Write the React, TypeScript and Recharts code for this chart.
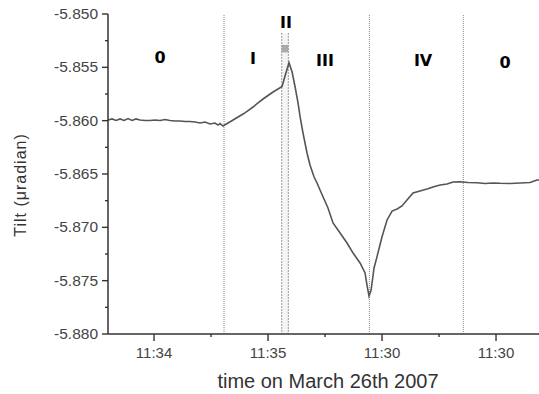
import {
  LineChart,
  Line,
  XAxis,
  YAxis,
  ReferenceLine,
  ReferenceArea,
  ReferenceDot,
} from "recharts";

// time in minutes past 11:00
const times = [
  33.596, 33.632, 33.667, 33.702, 33.737, 33.772, 33.807, 33.842, 33.877, 33.921,
  33.965, 34.009, 34.053, 34.096, 34.14, 34.184, 34.228, 34.272, 34.316, 34.36,
  34.404, 34.447, 34.491, 34.535, 34.561, 34.579, 34.605, 34.649, 34.693, 34.737,
  34.781, 34.825, 34.868, 34.912, 34.956, 35.0, 35.044, 35.088, 35.123, 35.149,
  35.184, 35.211, 35.237, 35.263, 35.281, 35.307, 35.342, 35.368, 35.404, 35.43,
  35.456, 35.482, 35.526, 35.57, 35.632, 35.693, 35.746, 35.807, 35.851, 35.868,
  35.886, 35.904, 35.93, 35.956, 36.0, 36.044, 36.088, 36.132, 36.175, 36.219,
  36.272, 36.333, 36.395, 36.447, 36.509, 36.57, 36.623, 36.684, 36.754, 36.833,
  36.904, 36.974, 37.035, 37.123, 37.211, 37.298, 37.36, 37.377,
];

const tilt = [
  -5.85994, -5.85984, -5.85998, -5.85984, -5.85998, -5.8598, -5.85998, -5.85984, -5.85994, -5.85998,
  -5.85998, -5.85994, -5.85998, -5.85989, -5.85998, -5.86003, -5.86003, -5.86008, -5.86008, -5.86013,
  -5.86022, -5.86013, -5.86031, -5.86022, -5.86041, -5.86027, -5.8605, -5.86022, -5.85994, -5.85966,
  -5.85938, -5.85905, -5.85872, -5.85834, -5.85797, -5.85764, -5.85731, -5.85703, -5.8568, -5.85581,
  -5.85457, -5.85544, -5.85682, -5.85834, -5.85963, -5.86116, -5.86303, -5.86416, -5.86528, -5.86584,
  -5.8665, -5.86713, -5.86819, -5.86959, -5.87053, -5.87147, -5.87241, -5.87334, -5.87428, -5.87541,
  -5.87644, -5.87588, -5.87381, -5.87275, -5.87088, -5.86931, -5.86847, -5.86828, -5.868, -5.86744,
  -5.86678, -5.86659, -5.86641, -5.86622, -5.86603, -5.86594, -5.86575, -5.86572, -5.8658, -5.86582,
  -5.86589, -5.86584, -5.86587, -5.86589, -5.86584, -5.8658, -5.86556, -5.86556,
];

const xTicks = [34, 34.5, 35, 35.5, 36, 36.5, 37];
const xTickLabels = ["11:34", "", "11:35", "", "11:30", "", "11:30"];
const yTicks = [-5.88, -5.8775, -5.875, -5.8725, -5.87, -5.8675, -5.865, -5.8625, -5.86, -5.8575, -5.855, -5.8525, -5.85];
const yTickLabels = ["-5.880", "", "-5.875", "", "-5.870", "", "-5.865", "", "-5.860", "", "-5.855", "", "-5.850"];

// phase boundaries (full height) and the two short phase II markers
const boundaryTimes = [34.614, 35.889, 36.713];
const phaseTwoTimes = [35.12, 35.178];
const phaseTwoTop = -5.85178;

const phaseNames = ["0", "I", "II", "III", "IV", "0"];
const phaseTimes = [34.053, 34.868, 35.158, 35.5, 36.36, 37.079];
const phaseLevels = [-5.85403, -5.85413, -5.85075, -5.85431, -5.85431, -5.8545];

const data = times.map((t, i) => ({ t, tilt: tilt[i] }));

const FONT = "'Liberation Sans', Arial, sans-serif";

function XTick(props: any) {
  const { x, y, index } = props;
  const label = xTickLabels[index];
  const major = label !== "";
  return (
    <g>
      <line x1={x} x2={x} y1={y} y2={y + (major ? 7 : 3)} stroke="#333" strokeWidth={1.4} />
      {major && (
        <text x={x} y={y + 24} textAnchor="middle" fontSize={15} fill="#444" fontFamily={FONT}>
          {label}
        </text>
      )}
    </g>
  );
}

function YTick(props: any) {
  const { x, y, index } = props;
  const label = yTickLabels[index];
  const major = label !== "";
  return (
    <g>
      <line x1={x - (major ? 6 : 3)} x2={x} y1={y} y2={y} stroke="#333" strokeWidth={1.4} />
      {major && (
        <text x={x - 10} y={y + 5} textAnchor="end" fontSize={15.5} fill="#444" fontFamily={FONT}>
          {label}
        </text>
      )}
    </g>
  );
}

export default function App() {
  return (
    <div style={{ position: "absolute", left: 0, top: 0, width: 539, height: 394, background: "#fff" }}>
      <LineChart width={539} height={394} data={data} margin={{ top: 14, right: 0, left: 0, bottom: 30 }}>
        <XAxis
          dataKey="t"
          type="number"
          domain={[33.596, 37.377]}
          allowDataOverflow
          ticks={xTicks}
          interval={0}
          tickSize={0}
          tickMargin={0}
          height={30}
          axisLine={{ stroke: "#333", strokeWidth: 1.5 }}
          tickLine={false}
          tick={<XTick />}
        />
        <YAxis
          type="number"
          domain={[-5.88, -5.85]}
          allowDataOverflow
          ticks={yTicks}
          interval={0}
          tickSize={0}
          tickMargin={0}
          width={108}
          axisLine={{ stroke: "#333", strokeWidth: 1.5 }}
          tickLine={false}
          tick={<YTick />}
        />
        <ReferenceArea
          x1={phaseTwoTimes[0]}
          x2={phaseTwoTimes[1]}
          y1={-5.88}
          y2={phaseTwoTop}
          fill="#eeeeee"
          fillOpacity={0.6}
          stroke="none"
        />
        <ReferenceArea
          x1={phaseTwoTimes[0]}
          x2={phaseTwoTimes[1]}
          y1={-5.8536}
          y2={-5.8529}
          fill="#999"
          fillOpacity={0.8}
          stroke="none"
        />
        {boundaryTimes.map((t) => (
          <ReferenceLine key={t} x={t} stroke="#888" strokeWidth={1} strokeDasharray="1 1" />
        ))}
        {phaseTwoTimes.map((t) => (
          <ReferenceLine
            key={t}
            segment={[
              { x: t, y: phaseTwoTop },
              { x: t, y: -5.88 },
            ]}
            stroke="#999"
            strokeWidth={1}
            strokeDasharray="2 1"
          />
        ))}
        <Line
          type="linear"
          dataKey="tilt"
          stroke="#555"
          strokeWidth={1.6}
          dot={false}
          isAnimationActive={false}
        />
        {phaseNames.map((name, i) => (
          <ReferenceDot
            key={i}
            x={phaseTimes[i]}
            y={phaseLevels[i]}
            r={0}
            stroke="none"
            fill="none"
            label={{
              value: name,
              position: "center",
              fill: "#000",
              fontSize: 16,
              fontWeight: 700,
              fontFamily: "'DejaVu Sans', sans-serif",
            }}
          />
        ))}
      </LineChart>
      <div
        style={{
          position: "absolute",
          left: 200,
          width: 256,
          top: 370,
          textAlign: "center",
          fontFamily: FONT,
          fontSize: 20,
          lineHeight: "22px",
          color: "#333",
          whiteSpace: "nowrap",
        }}
      >
        time on March 26th 2007
      </div>
      <div
        style={{
          position: "absolute",
          left: 21,
          top: 185,
          transform: "translate(-50%, -50%) rotate(-90deg)",
          fontFamily: FONT,
          fontSize: 16,
          lineHeight: "18px",
          letterSpacing: 1,
          color: "#333",
          whiteSpace: "nowrap",
        }}
      >
        Tilt (μradian)
      </div>
    </div>
  );
}
